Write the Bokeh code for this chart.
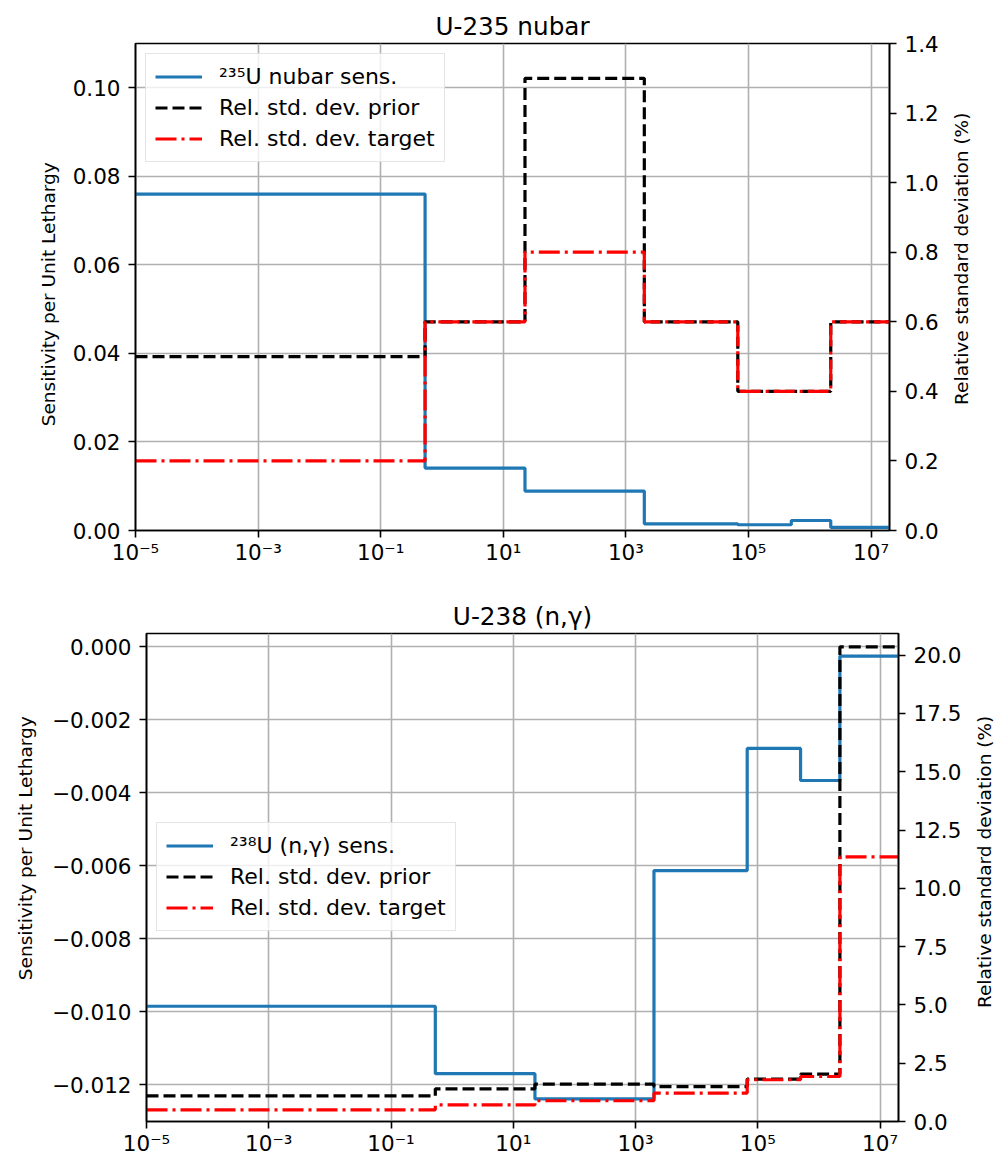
import math
from bokeh.plotting import figure
from bokeh.models import (Range1d, LinearAxis, FixedTicker, Legend, LegendItem,
                          CustomJSTickFormatter)
from bokeh.core.properties import value
from bokeh.layouts import row
from bokeh.embed import file_html
from bokeh.resources import INLINE

FONT = "DejaVu Sans"

# energy group boundaries (eV)
group_edges = [1e-5, 0.53, 22.6, 2.0e3, 6.7e4, 5.0e5, 2.2e6, 2.0e7]

# U-235 nubar
u235_sens = [0.0760, 0.0141, 0.0089, 0.00151, 0.0013, 0.00226, 0.0007]
u235_prior = [0.5, 0.6, 1.3, 0.6, 0.4, 0.4, 0.6]
u235_target = [0.2, 0.6, 0.8, 0.6, 0.4, 0.4, 0.6]

# U-238 (n,gamma)
u238_sens = [-0.00985, -0.0117, -0.01239, -0.00613, -0.00278, -0.00366, -0.00025]
u238_prior = [1.10, 1.40, 1.60, 1.50, 1.82, 2.03, 20.36]
u238_target = [0.50, 0.71, 0.89, 1.22, 1.79, 1.93, 11.35]

x_ticks = [1e-5, 1e-3, 1e-1, 1e1, 1e3, 1e5, 1e7]
top_left_ticks = [0.0, 0.02, 0.04, 0.06, 0.08, 0.10]
top_right_ticks = [0.0, 0.2, 0.4, 0.6, 0.8, 1.0, 1.2, 1.4]
bot_left_ticks = [0.0, -0.002, -0.004, -0.006, -0.008, -0.010, -0.012]
bot_right_ticks = [0.0, 2.5, 5.0, 7.5, 10.0, 12.5, 15.0, 17.5, 20.0]

LEFT_LABEL = "Sensitivity per Unit Lethargy"
RIGHT_LABEL = "Relative standard deviation (%)"

TICK_FS = "21.5px"
AXLBL_FS = "18.5px"

LOG_CODE = (
    "const sup = {'-': '\u207b', '0': '\u2070', '1': '\u00b9', '2': '\u00b2', "
    "'3': '\u00b3', '4': '\u2074', '5': '\u2075', '6': '\u2076', '7': '\u2077', "
    "'8': '\u2078', '9': '\u2079'};"
    "const e = Math.round(Math.log10(tick));"
    "return '10' + String(e).split('').map(c => sup[c]).join('');"
)


def style_axis(ax, ticks, code, standoff=8):
    ax.ticker = FixedTicker(ticks=ticks)
    ax.formatter = CustomJSTickFormatter(code=code)
    ax.major_label_text_font = FONT
    ax.major_label_text_font_size = TICK_FS
    ax.major_label_text_color = "black"
    ax.major_tick_out = 7
    ax.major_tick_in = 0
    ax.minor_tick_line_color = None
    ax.major_tick_line_width = 1.6
    ax.major_tick_line_color = "black"
    ax.axis_line_width = 1.6
    ax.axis_line_color = "black"
    ax.major_label_standoff = standoff


def side_strip(width, frame_h, bt, bb, text, x_frac, y_frac):
    # narrow strip holding an axis title, reading bottom-to-top
    q = figure(frame_width=width, frame_height=frame_h,
               x_range=Range1d(0, 1), y_range=Range1d(0, 1),
               x_axis_location=None, y_axis_location=None,
               output_backend="svg", toolbar_location=None,
               min_border_left=0, min_border_right=0,
               min_border_top=bt, min_border_bottom=bb)
    q.outline_line_color = None
    q.xgrid.visible = False
    q.ygrid.visible = False
    q.background_fill_color = "white"
    q.border_fill_color = "white"
    q.text(x=[x_frac], y=[y_frac], text=[text], angle=math.pi / 2,
           text_align="center", text_baseline="middle",
           text_font=value(FONT), text_font_size=value(AXLBL_FS), text_color="black")
    return q


def make_panel(title, sens, prior, target, sens_label, left_range, right_range,
               lticks, lcode, rticks, rcode, frame, borders, legend_loc):
    fw, fh = frame
    bl, br, bt, bb = borders
    p = figure(frame_width=fw, frame_height=fh, x_axis_type="log",
               x_range=Range1d(group_edges[0], group_edges[-1]),
               y_range=Range1d(*left_range),
               output_backend="svg", toolbar_location=None,
               min_border_left=bl, min_border_right=br,
               min_border_top=bt, min_border_bottom=bb)
    p.title.text = title
    p.title.align = "center"
    p.title.text_font = FONT
    p.title.text_font_size = "24.7px"
    p.title.text_font_style = "normal"
    p.title.text_color = "black"
    p.title.standoff = 6
    p.background_fill_color = "white"
    p.border_fill_color = "white"
    p.outline_line_color = "black"
    p.outline_line_width = 1.6

    p.extra_y_ranges = {"rsd": Range1d(*right_range)}

    style_axis(p.xaxis[0], x_ticks, LOG_CODE, standoff=2)
    style_axis(p.yaxis[0], lticks, lcode)

    rax = LinearAxis(y_range_name="rsd")
    style_axis(rax, rticks, rcode)
    p.add_layout(rax, "right")

    p.xgrid.ticker = FixedTicker(ticks=x_ticks)
    p.ygrid.ticker = FixedTicker(ticks=lticks)
    for g in (p.xgrid, p.ygrid):
        g.grid_line_color = "#b0b0b0"
        g.grid_line_width = 1.6

    xs = list(group_edges)
    r1 = p.step(x=xs, y=list(sens) + [sens[-1]], mode="after",
                line_color="#1f77b4", line_width=3.2)
    r2 = p.step(x=xs, y=list(prior) + [prior[-1]], mode="after",
                line_color="black", line_width=3.2, line_dash="12 5",
                y_range_name="rsd")
    r3 = p.step(x=xs, y=list(target) + [target[-1]], mode="after",
                line_color="#ff0000", line_width=3.2, line_dash="21 5 3 5",
                y_range_name="rsd")

    legend = Legend(items=[LegendItem(label=sens_label, renderers=[r1]),
                           LegendItem(label="Rel. std. dev. prior", renderers=[r2]),
                           LegendItem(label="Rel. std. dev. target", renderers=[r3])],
                    location=legend_loc)
    legend.margin = 10
    legend.padding = 9
    legend.spacing = 4
    legend.glyph_width = 47
    legend.glyph_height = 27
    legend.label_height = 27
    legend.label_standoff = 17
    legend.label_text_font = FONT
    legend.label_text_font_size = "22px"
    legend.label_text_color = "black"
    legend.border_line_color = "#cccccc"
    legend.border_line_width = 1.6
    legend.background_fill_color = "white"
    legend.background_fill_alpha = 0.8
    p.add_layout(legend)
    return p


# top panel: frame 754 x 487, borders (left, right, top, bottom)
p1 = make_panel("U-235 nubar", u235_sens, u235_prior, u235_target,
                "\u00b2\u00b3\u2075U nubar sens.", (0.0, 0.11), (0.0, 1.4),
                top_left_ticks, "return tick.toFixed(2);",
                top_right_ticks, "return tick.toFixed(1);",
                frame=(754, 487), borders=(75, 55, 43, 60), legend_loc="top_left")
l1 = side_strip(60, 487, 43, 60, LEFT_LABEL, 0.8, 0.485)
r1s = side_strip(34, 487, 43, 60, RIGHT_LABEL, 0.5, 0.558)

# bottom panel
p2 = make_panel("U-238 (n,\u03b3)", u238_sens, u238_prior, u238_target,
                "\u00b2\u00b3\u2078U (n,\u03b3) sens.", (-0.01301, 0.00037), (0.0, 20.93),
                bot_left_ticks,
                "return (tick < -1e-12 ? '\u2212' : '') + Math.abs(tick).toFixed(3);",
                bot_right_ticks, "return tick.toFixed(1);",
                frame=(752, 488), borders=(100, 70, 43, 34), legend_loc=(10, 190))
l2 = side_strip(46, 488, 43, 34, LEFT_LABEL, 0.543, 0.56)
r2s = side_strip(31, 488, 43, 34, RIGHT_LABEL, 0.5, 0.532)

open("out.html", "w").write(file_html([row(l1, p1, r1s), row(l2, p2, r2s)], INLINE))
